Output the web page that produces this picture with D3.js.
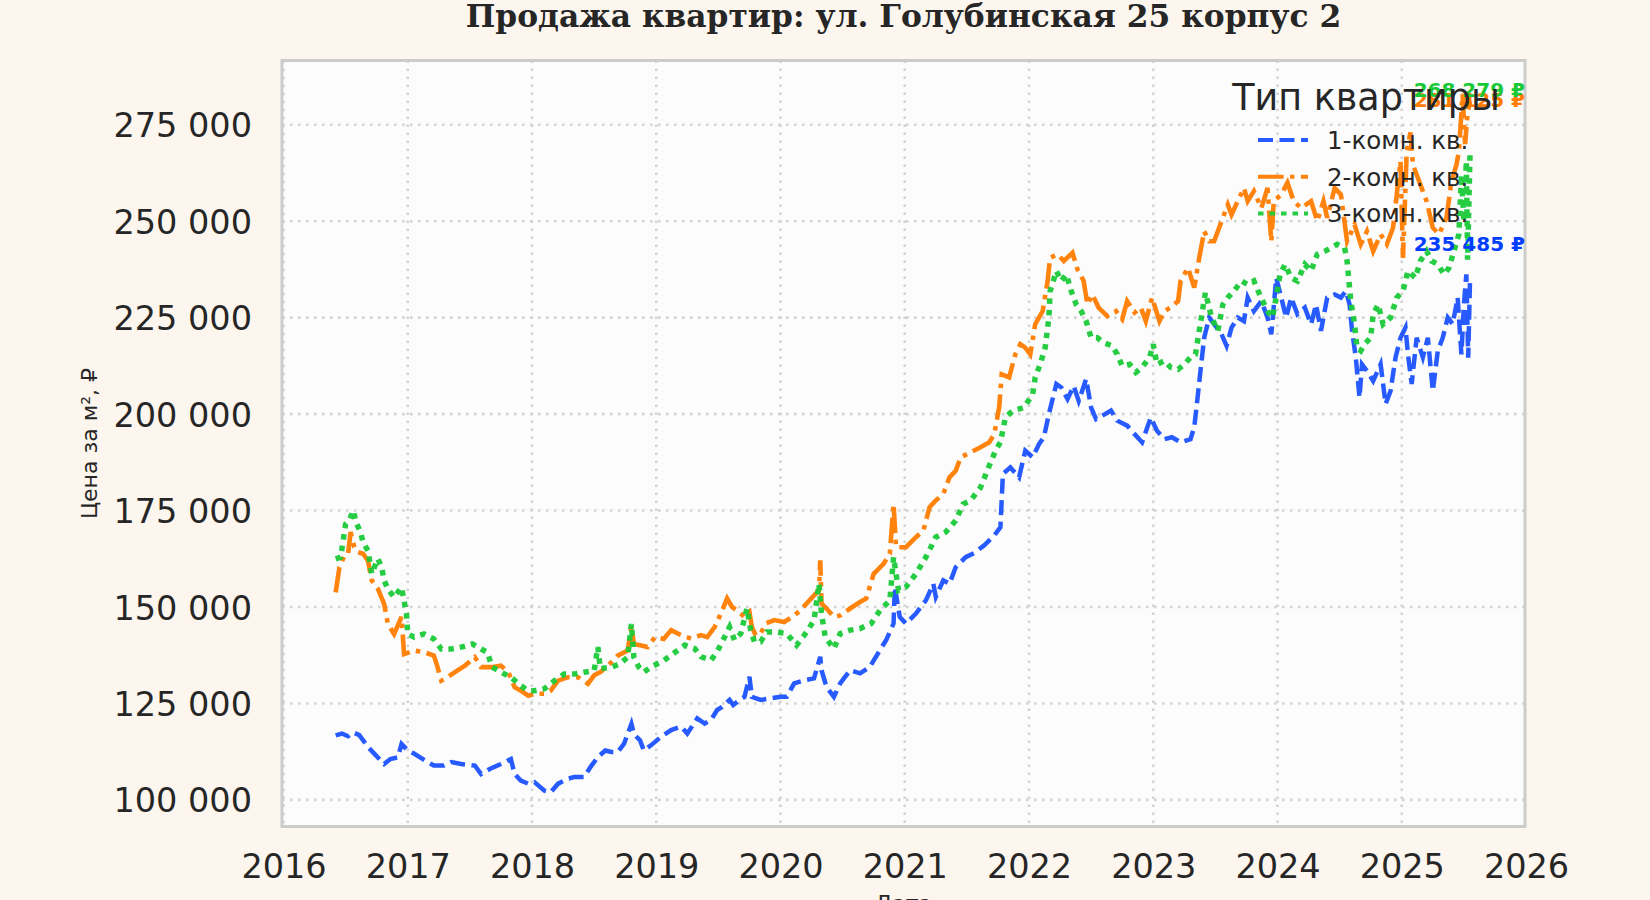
<!DOCTYPE html>
<html><head><meta charset="utf-8">
<script src="https://cdn.jsdelivr.net/npm/d3@7/dist/d3.min.js"></script>
<style>html,body{margin:0;padding:0;background:#fdf6ee;}svg{display:block}</style>
</head><body>
<svg id="chart" width="1650" height="900"></svg>
<script>
// ---------- DATA ----------
const chartTitle = "Продажа квартир: ул. Голубинская 25 корпус 2";
const yAxisLabel = "Цена за м², ₽";
const xAxisLabel = "Дата";
const legendTitle = "Тип квартиры";
const seriesNames = ["1-комн. кв.", "2-комн. кв.", "3-комн. кв."];
const xTickValues = [2016, 2017, 2018, 2019, 2020, 2021, 2022, 2023, 2024, 2025, 2026];
const yTickValues = [100000, 125000, 150000, 175000, 200000, 225000, 250000, 275000];
const xLimits = [2016, 2026];
const yLimits = [93100, 291650];
const endLabels = ["235 485 ₽", "281 125 ₽", "268 279 ₽"];

// 1-room (years, prices)
const oneRoomYears = [2016.42,2016.47,2016.52,2016.56,2016.61,2016.68,2016.73,2016.81,2016.86,2016.92,2016.95,2017.00,2017.05,2017.16,2017.21,2017.29,2017.35,2017.43,2017.54,2017.59,2017.66,2017.75,2017.83,2017.86,2017.91,2017.97,2018.02,2018.10,2018.15,2018.21,2018.29,2018.34,2018.42,2018.47,2018.53,2018.59,2018.64,2018.69,2018.74,2018.80,2018.82,2018.87,2018.90,2018.96,2019.04,2019.12,2019.20,2019.25,2019.33,2019.39,2019.44,2019.49,2019.53,2019.59,2019.62,2019.67,2019.71,2019.75,2019.77,2019.84,2019.92,2020.00,2020.05,2020.11,2020.19,2020.27,2020.32,2020.33,2020.37,2020.43,2020.48,2020.56,2020.64,2020.72,2020.80,2020.85,2020.91,2020.92,2020.96,2021.01,2021.09,2021.17,2021.23,2021.25,2021.31,2021.36,2021.41,2021.49,2021.56,2021.64,2021.72,2021.77,2021.79,2021.85,2021.92,2021.97,2022.03,2022.08,2022.12,2022.16,2022.22,2022.26,2022.31,2022.36,2022.40,2022.46,2022.50,2022.54,2022.59,2022.66,2022.71,2022.79,2022.85,2022.91,2022.98,2023.03,2023.09,2023.15,2023.22,2023.30,2023.33,2023.36,2023.38,2023.41,2023.45,2023.49,2023.55,2023.59,2023.63,2023.68,2023.73,2023.76,2023.81,2023.87,2023.92,2023.95,2023.99,2024.03,2024.07,2024.11,2024.16,2024.22,2024.27,2024.31,2024.35,2024.40,2024.46,2024.51,2024.55,2024.58,2024.60,2024.63,2024.66,2024.68,2024.72,2024.77,2024.83,2024.87,2024.91,2024.95,2024.99,2025.03,2025.05,2025.08,2025.12,2025.17,2025.21,2025.25,2025.29,2025.33,2025.37,2025.41,2025.45,2025.48,2025.50,2025.52,2025.535,2025.55];
const oneRoomPrices = [116700,117200,116500,117500,116800,113700,112000,109300,110600,111000,114500,112800,112000,109800,108900,108900,109800,109300,108900,106700,108000,109300,110600,106700,105000,104200,104600,102400,102000,104200,105500,105900,105900,108500,111100,112800,112400,112400,114500,119700,117100,115400,112800,114200,116400,118100,119000,117200,121100,119800,120700,123300,124100,125900,124600,125900,126700,131900,126700,125900,126300,126700,126700,130200,131000,131500,137100,133600,129300,126700,130200,133600,132800,134500,138800,141400,145700,155200,147400,145700,148300,151700,156000,152600,156900,156000,160300,162900,164000,166000,168500,170700,184500,186200,183600,190500,188800,192200,194000,200000,207800,206900,203900,207300,203400,209100,201700,198700,199600,200900,198300,197000,194800,192700,199100,195700,193500,194000,192700,193500,196600,205200,211200,219800,225000,223300,220700,217700,222400,225000,224100,230200,226700,229300,225000,220700,235300,230200,225000,230200,225900,227600,223300,228400,221600,230200,231000,230200,231900,228400,221600,214700,204300,212900,211200,208600,212900,202600,206000,214700,219800,222400,215500,207800,219800,214700,219800,206000,216400,219800,225000,223300,230200,215500,228400,236200,214600,235485];

// 2-room
const twoRoomYears = [2016.42,2016.45,2016.49,2016.52,2016.54,2016.57,2016.60,2016.64,2016.68,2016.71,2016.76,2016.81,2016.84,2016.89,2016.95,2016.97,2017.05,2017.13,2017.21,2017.24,2017.27,2017.32,2017.38,2017.46,2017.54,2017.59,2017.67,2017.75,2017.81,2017.86,2017.91,2017.97,2018.02,2018.10,2018.15,2018.21,2018.29,2018.37,2018.45,2018.50,2018.55,2018.64,2018.69,2018.77,2018.80,2018.82,2018.88,2018.93,2018.99,2019.06,2019.12,2019.20,2019.28,2019.36,2019.41,2019.47,2019.52,2019.57,2019.61,2019.65,2019.71,2019.75,2019.77,2019.80,2019.84,2019.88,2019.95,2020.03,2020.11,2020.16,2020.21,2020.27,2020.31,2020.32,2020.33,2020.37,2020.43,2020.48,2020.56,2020.64,2020.69,2020.75,2020.83,2020.88,2020.91,2020.93,2021.01,2021.09,2021.15,2021.20,2021.25,2021.31,2021.36,2021.41,2021.45,2021.53,2021.61,2021.68,2021.72,2021.76,2021.78,2021.84,2021.89,2021.93,2021.97,2022.01,2022.05,2022.11,2022.15,2022.17,2022.23,2022.28,2022.35,2022.39,2022.44,2022.47,2022.51,2022.56,2022.63,2022.70,2022.75,2022.79,2022.85,2022.90,2022.94,2022.99,2023.05,2023.09,2023.14,2023.20,2023.22,2023.28,2023.33,2023.37,2023.41,2023.45,2023.49,2023.55,2023.60,2023.63,2023.68,2023.73,2023.76,2023.81,2023.87,2023.92,2023.95,2023.97,2024.03,2024.08,2024.13,2024.19,2024.27,2024.32,2024.37,2024.40,2024.46,2024.51,2024.56,2024.62,2024.67,2024.72,2024.77,2024.83,2024.88,2024.93,2024.96,2024.99,2025.01,2025.04,2025.07,2025.09,2025.15,2025.20,2025.25,2025.30,2025.36,2025.40,2025.44,2025.46,2025.49,2025.51,2025.53,2025.55];
const twoRoomPrices = [153800,160300,163300,163800,169400,165500,164200,163800,162000,156900,154700,150800,145600,143000,147400,137800,138700,138300,137400,134400,130900,131800,133100,134800,137000,134400,134400,134800,133100,129200,128300,127000,127500,127500,128300,130900,131800,131800,130100,132300,133100,135700,137400,138700,144800,140400,140000,139600,142200,141700,144000,142700,141800,142700,142200,144800,148300,152200,150000,149100,147400,148700,144800,142700,143100,145700,146600,146100,147800,149100,150900,153000,154300,162100,150900,149600,147400,147800,149600,151300,152200,158600,161200,163800,176700,165500,165500,168100,169800,175900,177600,179300,183600,185300,188800,190100,191400,192700,194800,201700,210300,209500,215500,218100,217200,215500,223300,226700,234500,240500,241400,239700,241800,237500,234500,228400,231000,227600,225400,226700,224600,229300,226300,227600,224100,230200,224100,226700,227600,229300,234500,237900,232800,240500,247400,244800,244800,250000,254300,251700,255200,258600,255200,257800,253400,258600,244800,255200,256900,260000,255200,253400,255200,250000,255200,250900,258600,256900,244800,249100,244000,247400,242200,246600,244000,248300,256900,265500,240500,268100,273000,264600,259500,255200,248300,246600,250900,260300,264600,268100,283000,270000,278000,281125];

// 3-room
const threeRoomYears = [2016.42,2016.46,2016.50,2016.53,2016.56,2016.59,2016.62,2016.64,2016.68,2016.71,2016.76,2016.79,2016.81,2016.84,2016.89,2016.95,2016.99,2017.00,2017.05,2017.13,2017.21,2017.27,2017.35,2017.43,2017.52,2017.59,2017.64,2017.68,2017.75,2017.83,2017.91,2017.97,2018.02,2018.10,2018.18,2018.26,2018.34,2018.42,2018.50,2018.53,2018.55,2018.64,2018.71,2018.77,2018.80,2018.82,2018.86,2018.90,2018.96,2019.01,2019.06,2019.12,2019.23,2019.31,2019.36,2019.44,2019.49,2019.55,2019.59,2019.63,2019.68,2019.73,2019.76,2019.79,2019.84,2019.89,2019.97,2020.05,2020.13,2020.21,2020.27,2020.31,2020.33,2020.36,2020.43,2020.48,2020.56,2020.64,2020.73,2020.80,2020.88,2020.91,2020.95,2021.01,2021.09,2021.17,2021.25,2021.33,2021.41,2021.47,2021.53,2021.61,2021.68,2021.73,2021.77,2021.81,2021.87,2021.96,2022.03,2022.05,2022.09,2022.13,2022.16,2022.17,2022.22,2022.26,2022.30,2022.34,2022.38,2022.42,2022.46,2022.50,2022.55,2022.60,2022.67,2022.71,2022.75,2022.81,2022.86,2022.91,2022.97,2023.00,2023.03,2023.09,2023.14,2023.20,2023.25,2023.30,2023.34,2023.37,2023.40,2023.42,2023.47,2023.52,2023.56,2023.60,2023.65,2023.71,2023.76,2023.81,2023.87,2023.92,2023.96,2024.02,2024.06,2024.11,2024.16,2024.22,2024.27,2024.32,2024.38,2024.43,2024.48,2024.54,2024.56,2024.59,2024.62,2024.64,2024.67,2024.70,2024.75,2024.77,2024.81,2024.85,2024.91,2024.96,2025.01,2025.05,2025.11,2025.15,2025.20,2025.24,2025.29,2025.34,2025.38,2025.42,2025.46,2025.48,2025.50,2025.52,2025.53,2025.55];
const threeRoomPrices = [162500,162900,171500,172400,175000,171500,169400,166800,164600,158600,162500,160300,156900,154700,152500,155100,148200,143000,142200,143000,141700,139100,139100,139600,140400,139100,138300,134400,133100,131800,129600,128300,128300,128800,130900,132600,132600,133100,133500,139600,134000,134400,135300,137000,145600,137000,134400,133100,134500,135300,136100,137500,140100,139200,137100,136200,138400,142200,144800,141400,143100,149600,144000,141000,141000,143500,143500,143100,140100,143500,146600,156000,148300,142200,139200,143100,144000,144400,145700,149100,151700,162900,154300,155200,158600,162900,168100,169400,172400,176700,177600,181000,186600,190500,192700,199100,200900,201700,205200,209500,212900,217200,225000,231900,237100,234500,236200,231900,228400,226700,224100,219800,219800,218500,217700,215500,212500,212900,210800,212100,214700,218100,212900,213800,212100,211600,212900,214700,215500,221600,227600,231500,225000,221600,228400,230200,231900,234500,233600,234500,230000,226700,225000,236000,238800,235300,234500,238800,237100,241400,242200,243100,244000,243100,239700,229300,223300,217200,216400,218100,219800,225900,228400,223300,225000,230200,231900,237100,235300,239700,242200,239700,238800,236200,237900,242200,246600,262000,250000,265500,240000,268279];

// ---------- DRAWING ----------
const svg = d3.select("#chart");
const W = 1650, H = 900;
const plot = {left: 282, right: 1525, top: 60.5, bottom: 826.5};

svg.append("rect").attr("width", W).attr("height", H).attr("fill", "#fdf6ee");

const x = d3.scaleLinear().domain(xLimits).range([283.5, 1526]);
const y = d3.scaleLinear().domain(yLimits).range([plot.bottom, plot.top]);

svg.append("rect")
  .attr("x", plot.left).attr("y", plot.top)
  .attr("width", plot.right - plot.left).attr("height", plot.bottom - plot.top)
  .attr("fill", "#fcfcfd");

svg.append("clipPath").attr("id", "clip").append("rect")
  .attr("x", plot.left).attr("y", plot.top)
  .attr("width", plot.right - plot.left).attr("height", plot.bottom - plot.top);

const tickFont = "'DejaVu Sans', sans-serif";
const textColor = "#262626";

// grid
const gridG = svg.append("g").attr("clip-path", "url(#clip)");
gridG.selectAll("line.gx").data(xTickValues).join("line")
  .attr("x1", d => x(d)).attr("x2", d => x(d))
  .attr("y1", plot.top).attr("y2", plot.bottom)
  .attr("stroke", "#d3d3d3").attr("stroke-width", 2.6).attr("stroke-dasharray", "2.6,5.4");
gridG.selectAll("line.gy").data(yTickValues).join("line")
  .attr("x1", plot.left).attr("x2", plot.right)
  .attr("y1", d => y(d)).attr("y2", d => y(d))
  .attr("stroke", "#d3d3d3").attr("stroke-width", 2.6).attr("stroke-dasharray", "2.6,5.4");

// axes (labels only, matplotlib style)
const fmt = v => d3.format(",")(v).replace(/,/g, "\u00a0");
const yAxis = d3.axisLeft(y).tickValues(yTickValues).tickSize(0).tickPadding(0).tickFormat(fmt);
const yAxG = svg.append("g").attr("transform", `translate(${252},0)`).call(yAxis);
yAxG.select(".domain").remove();
yAxG.selectAll("text").attr("font-family", tickFont).attr("font-size", 33.5)
  .attr("fill", textColor).attr("dy", "0.36em").attr("x", 0);

const xAxis = d3.axisBottom(x).tickValues(xTickValues).tickSize(0).tickPadding(0).tickFormat(d3.format("d"));
const xAxG = svg.append("g").attr("transform", `translate(0,${878})`).call(xAxis);
xAxG.select(".domain").remove();
xAxG.selectAll("text").attr("font-family", tickFont).attr("font-size", 33.5)
  .attr("fill", textColor).attr("dy", 0).attr("y", 0);

// series
const seriesYears = [oneRoomYears, twoRoomYears, threeRoomYears];
const seriesPrices = [oneRoomPrices, twoRoomPrices, threeRoomPrices];
const colors = ["#023eff", "#ff7c00", "#1ac938"];
const labelColors = ["#023eff", "#ff7c00", "#1ac938"];
const dashes = ["15,6.5", "25.6,6.4,4.5,6.4", "5.5,6"];
const widths = [4.5, 4.6, 5.5];

const line = d3.line().x(d => x(d[0])).y(d => y(d[1]));
const linesG = svg.append("g").attr("clip-path", "url(#clip)");
seriesNames.forEach((name, i) => {
  const pts = seriesYears[i].map((yr, j) => [yr, seriesPrices[i][j]]);
  linesG.append("path").datum(pts)
    .attr("d", line)
    .attr("fill", "none")
    .attr("stroke", colors[i])
    .attr("stroke-opacity", i === 0 ? 0.85 : 0.95)
    .attr("stroke-width", widths[i])
    .attr("stroke-dasharray", dashes[i])
    .attr("stroke-linejoin", "miter");
});

// frame
svg.append("rect")
  .attr("x", plot.left).attr("y", plot.top)
  .attr("width", plot.right - plot.left).attr("height", plot.bottom - plot.top)
  .attr("fill", "none").attr("stroke", "#cccccc").attr("stroke-width", 3);

// end-value labels (anchored at last value, nudged to avoid overlap)
const labelNudge = [-26, 6, -53.5];
const drawOrder = [1, 2, 0];
drawOrder.forEach(i => {
  const n = seriesPrices[i].length;
  svg.append("text")
    .attr("x", plot.right)
    .attr("y", y(seriesPrices[i][n - 1]) + labelNudge[i])
    .attr("text-anchor", "end")
    .attr("font-family", tickFont).attr("font-weight", "bold").attr("font-size", 20)
    .attr("fill", labelColors[i])
    .text(endLabels[i]);
});

// legend (no frame)
const lg = svg.append("g");
lg.append("text").attr("x", 1366).attr("y", 110).attr("text-anchor", "middle")
  .attr("font-family", tickFont).attr("font-size", 36.5).attr("fill", textColor).text(legendTitle);
seriesNames.forEach((name, i) => {
  const cy = 140 + i * 36.7;
  lg.append("line").attr("x1", 1258).attr("x2", 1308).attr("y1", cy).attr("y2", cy)
    .attr("stroke", colors[i]).attr("stroke-opacity", i === 0 ? 0.85 : 0.95)
    .attr("stroke-width", 4).attr("stroke-dasharray", dashes[i]);
  lg.append("text").attr("x", 1327).attr("y", cy + 9)
    .attr("font-family", tickFont).attr("font-size", 24.5).attr("fill", textColor).text(name);
});

// title & axis labels
svg.append("text").attr("x", (plot.left + plot.right) / 2).attr("y", 27)
  .attr("text-anchor", "middle").attr("font-family", "'DejaVu Serif', serif")
  .attr("font-weight", "bold").attr("font-size", 31.3).attr("fill", textColor).text(chartTitle);

svg.append("text").attr("transform", `translate(97,${(plot.top + plot.bottom) / 2}) rotate(-90)`)
  .attr("text-anchor", "middle").attr("font-family", tickFont).attr("font-size", 22)
  .attr("fill", textColor).text(yAxisLabel);

svg.append("text").attr("x", (plot.left + plot.right) / 2).attr("y", 911)
  .attr("text-anchor", "middle").attr("font-family", tickFont).attr("font-size", 22)
  .attr("fill", textColor).text(xAxisLabel);
</script>
</body></html>
